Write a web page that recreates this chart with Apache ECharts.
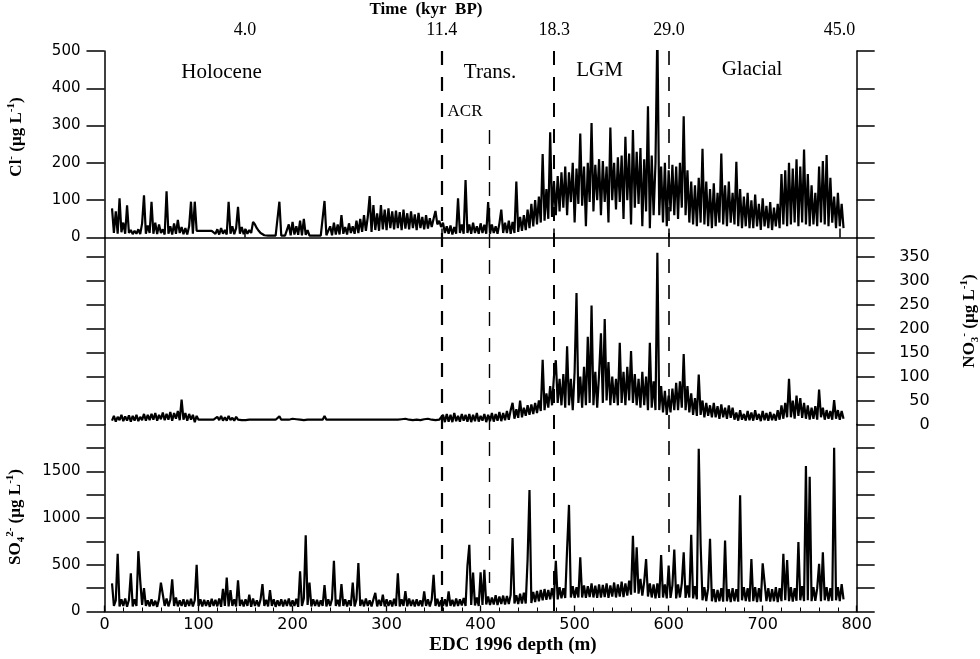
<!DOCTYPE html>
<html><head><meta charset="utf-8">
<script src="https://cdn.jsdelivr.net/npm/echarts@6/dist/echarts.min.js"></script>
<style>html,body{margin:0;padding:0;background:#fff}#c{width:980px;height:659px}</style>
</head><body><div id="c"></div>
<script>
// sampling grid of the records (EDC 1996 depth, m)
const depthStart = 8;
const depthStep = 2;

// Cl- (µg/L), one row = 20 m
const clValues = [
  78, 12, 70, 10, 105, 14, 40, 10, 86, 12,
  20, 9, 18, 10, 22, 9, 38, 113, 10, 32,
  12, 96, 10, 40, 9, 35, 12, 22, 8, 124,
  10, 30, 8, 38, 10, 47, 12, 28, 9, 25,
  8, 30, 96, 10, 96, 18, 18, 18, 18, 18,
  18, 18, 18, 18, 18, 10, 22, 8, 25, 10,
  20, 8, 96, 10, 30, 9, 25, 82, 10, 28,
  9, 22, 10, 20, 12, 42, 35, 25, 18, 12,
  8, 6, 5, 5, 5, 5, 5, 5, 5, 96,
  5, 5, 5, 6, 35, 6, 42, 8, 30, 7,
  45, 6, 50, 7, 20, 5, 5, 5, 5, 5,
  5, 5, 6, 98, 6, 8, 30, 6, 40, 8,
  35, 8, 60, 10, 28, 8, 38, 12, 30, 10,
  45, 12, 50, 15, 60, 18, 55, 111, 15, 87,
  20, 65, 18, 87, 22, 75, 20, 78, 25, 70,
  22, 72, 25, 68, 20, 75, 24, 65, 22, 70,
  25, 62, 20, 66, 25, 55, 22, 60, 24, 52,
  28, 50, 71, 35, 45, 28, 40, 12, 30, 10,
  32, 8, 28, 10, 105, 12, 35, 10, 154, 12,
  35, 10, 40, 12, 30, 10, 38, 12, 34, 10,
  95, 10, 35, 12, 30, 10, 38, 75, 12, 40,
  12, 45, 10, 42, 12, 150, 15, 55, 18, 60,
  20, 75, 25, 90, 30, 100, 35, 110, 40, 224,
  45, 130, 50, 282, 55, 150, 60, 165, 70, 175,
  80, 190, 60, 175, 95, 200, 40, 185, 90, 279,
  85, 190, 30, 200, 95, 307, 70, 195, 100, 210,
  60, 205, 95, 190, 40, 295, 100, 200, 75, 215,
  95, 220, 50, 270, 100, 225, 35, 288, 80, 230,
  90, 240, 30, 210, 70, 352, 25, 220, 60, 200,
  560, 60, 190, 40, 200, 30, 180, 70, 195, 60,
  190, 50, 200, 80, 325, 60, 180, 40, 150, 35,
  140, 30, 160, 40, 238, 35, 150, 30, 130, 25,
  145, 30, 120, 40, 225, 35, 140, 30, 150, 40,
  120, 35, 203, 30, 130, 25, 110, 30, 120, 25,
  100, 25, 115, 30, 90, 20, 105, 30, 85, 25,
  95, 20, 80, 30, 90, 25, 170, 35, 180, 30,
  200, 35, 185, 40, 210, 30, 190, 40, 236, 35,
  170, 30, 140, 35, 120, 30, 190, 40, 205, 35,
  221, 30, 160, 40, 110, 25, 120, 30, 90, 25
];

// NO3- (µg/L)
const no3Values = [
  8, 18, 6, 16, 9, 20, 7, 17, 8, 19,
  6, 18, 8, 20, 7, 16, 9, 22, 8, 20,
  9, 22, 10, 24, 8, 20, 11, 25, 9, 22,
  10, 26, 8, 24, 12, 28, 9, 52, 10, 24,
  8, 22, 10, 20, 5, 18, 10, 10, 10, 10,
  10, 10, 10, 10, 10, 8, 16, 9, 18, 8,
  15, 8, 18, 9, 14, 8, 16, 10, 13, 9,
  12, 9, 11, 10, 14, 10, 10, 10, 10, 10,
  10, 10, 10, 10, 10, 10, 10, 10, 10, 17,
  10, 10, 10, 10, 10, 6, 12, 8, 11, 9,
  10, 12, 9, 10, 10, 10, 10, 10, 10, 10,
  10, 10, 10, 18, 10, 10, 10, 10, 10, 10,
  10, 10, 10, 10, 10, 10, 10, 10, 10, 10,
  10, 10, 10, 10, 10, 10, 10, 10, 10, 10,
  10, 10, 10, 10, 10, 12, 10, 10, 10, 10,
  10, 12, 10, 9, 11, 10, 12, 9, 10, 11,
  9, 11, 10, 12, 9, 10, 11, 9, 12, 10,
  10, 12, 9, 11, 10, 8, 20, 5, 22, 6,
  20, 5, 24, 7, 18, 6, 22, 8, 20, 6,
  22, 5, 20, 7, 24, 6, 18, 8, 22, 5,
  20, 7, 24, 6, 22, 8, 26, 7, 24, 9,
  28, 10, 30, 45, 12, 32, 14, 50, 15, 35,
  18, 40, 20, 42, 22, 45, 24, 50, 28, 135,
  30, 65, 35, 80, 40, 100, 134, 45, 95, 40,
  105, 35, 163, 40, 95, 30, 110, 274, 45, 100,
  35, 120, 40, 183, 45, 248, 40, 110, 35, 105,
  190, 45, 220, 50, 130, 40, 100, 45, 95, 40,
  170, 45, 110, 40, 120, 50, 153, 45, 105, 40,
  95, 35, 110, 40, 100, 30, 170, 35, 90, 30,
  358, 30, 80, 25, 70, 20, 60, 25, 75, 30,
  87, 30, 90, 35, 147, 30, 80, 25, 65, 20,
  55, 18, 104, 20, 50, 15, 45, 18, 40, 15,
  45, 15, 38, 12, 42, 15, 35, 12, 40, 14,
  35, 10, 25, 8, 30, 10, 22, 8, 28, 9,
  25, 8, 30, 10, 22, 7, 28, 9, 24, 8,
  26, 9, 22, 8, 30, 10, 40, 12, 45, 15,
  95, 15, 50, 12, 60, 18, 55, 14, 45, 12,
  40, 10, 35, 12, 38, 10, 73, 15, 35, 10,
  30, 12, 28, 10, 51, 12, 30, 10, 28, 12
];

// SO4 2- (µg/L)
const so4Values = [
  300, 60, 120, 616, 55, 130, 60, 140, 50, 125,
  409, 55, 130, 60, 645, 330, 70, 250, 60, 120,
  55, 130, 60, 115, 50, 135, 308, 326, 60, 140,
  55, 125, 344, 60, 150, 55, 120, 60, 130, 50,
  125, 60, 135, 55, 120, 500, 60, 130, 55, 125,
  60, 120, 50, 135, 60, 125, 55, 140, 50, 243,
  60, 362, 55, 228, 60, 130, 55, 333, 60, 125,
  55, 130, 60, 180, 50, 140, 60, 120, 55, 130,
  293, 60, 125, 55, 228, 60, 130, 50, 120, 60,
  130, 55, 125, 60, 140, 55, 120, 60, 135, 50,
  431, 60, 140, 815, 70, 308, 55, 130, 60, 125,
  55, 120, 60, 283, 55, 130, 60, 135, 543, 60,
  125, 55, 293, 60, 130, 55, 120, 60, 308, 55,
  130, 518, 60, 125, 55, 140, 60, 120, 55, 130,
  200, 55, 125, 60, 180, 55, 130, 60, 120, 55,
  135, 60, 409, 55, 130, 60, 217, 55, 140, 60,
  125, 55, 130, 60, 120, 55, 214, 60, 130, 55,
  125, 391, 60, 135, 55, 120, 60, 130, 55, 214,
  60, 125, 55, 140, 60, 130, 65, 145, 60, 489,
  714, 70, 417, 65, 150, 60, 418, 70, 446, 75,
  160, 70, 150, 75, 175, 70, 160, 80, 170, 75,
  165, 80, 180, 785, 85, 175, 80, 190, 85, 200,
  85, 560, 1300, 90, 210, 100, 220, 110, 230, 120,
  240, 125, 230, 130, 250, 135, 543, 130, 260, 140,
  250, 145, 668, 1140, 150, 270, 145, 260, 150, 579,
  150, 280, 145, 270, 155, 300, 150, 275, 145, 290,
  150, 285, 155, 300, 145, 280, 160, 310, 150, 290,
  160, 320, 155, 300, 170, 330, 180, 810, 200, 686,
  190, 350, 170, 320, 561, 160, 300, 150, 290, 140,
  300, 145, 604, 150, 290, 140, 491, 145, 280, 663,
  140, 290, 150, 300, 634, 145, 280, 150, 820, 140,
  270, 130, 1740, 716, 120, 260, 110, 250, 777, 110,
  240, 100, 230, 110, 250, 105, 760, 110, 240, 100,
  250, 110, 240, 105, 1243, 120, 260, 110, 250, 105,
  561, 110, 260, 100, 250, 105, 516, 520, 110, 250,
  105, 240, 110, 260, 100, 250, 110, 616, 120, 551,
  110, 260, 105, 250, 115, 742, 120, 270, 110, 1555,
  120, 1440, 110, 260, 115, 250, 509, 110, 634, 120,
  260, 110, 250, 115, 1752, 120, 260, 110, 294, 130
];

// top time axis: depth (m) of the age marks and their labels (kyr BP)
const timeDepths = [149.5, 358.7, 478.2, 600.5, 781.7];
const timeLabels = ['4.0', '11.4', '18.3', '29.0', '45.0'];
// period boundaries (depth, m): 11.4 kyr, ACR end, 18.3 kyr, 29.0 kyr
const boundaryDepths = [358.7, 409.6, 478.2, 600.5];
// tick values
const no3Ticks = [0, 50, 100, 150, 200, 250, 300, 350];
const so4Labels = [0, 500, 1000, 1500];

function pairs(vals) { return vals.map((v, i) => [depthStart + i * depthStep, v]); }

const chart = echarts.init(document.getElementById('c'));
const L = 104.5, R = 123.3;
const black = '#000';
const tickLbl = { fontFamily: 'DejaVu Sans', fontSize: 15, color: black, formatter: v => String(v) };
const axLine = { show: true, lineStyle: { color: black, width: 1.5 } };
const yTick = { show: true, inside: false, length: 18, lineStyle: { color: black, width: 1.5 } };
const dataLine = { color: black, width: 2.2, join: 'bevel' };

const serif = 'Liberation Serif';
function yName(text, x, y) {
  return {
    type: 'text', x: x, y: y, rotation: Math.PI / 2, silent: true,
    style: {
      text: text, align: 'center', verticalAlign: 'middle', textAlign: 'center', textVerticalAlign: 'middle', fill: black,
      rich: {
        b: { fontFamily: serif, fontWeight: 'bold', fontSize: 17, lineHeight: 22, fill: black },
        sup: { fontFamily: serif, fontWeight: 'bold', fontSize: 11, lineHeight: 12, verticalAlign: 'top', fill: black },
        sub: { fontFamily: serif, fontWeight: 'bold', fontSize: 11, lineHeight: 12, verticalAlign: 'bottom', fill: black }
      }
    }
  };
}
function label(text, x, y, size, bold) {
  return { type: 'text', x: x, y: y, silent: true,
    style: { text: text, fill: black, font: (bold ? 'bold ' : '') + size + 'px "' + serif + '"',
      align: 'center', verticalAlign: 'middle', textAlign: 'center', textVerticalAlign: 'middle' } };
}

const option = {
  animation: false,
  backgroundColor: '#fff',
  grid: [
    { left: L, right: R, top: 51, height: 186.5 },
    { left: L, right: R, top: 237.5, height: 187 },
    { left: L, right: R, top: 424.5, height: 187 },
    { left: L, right: R, top: 51, height: 560.5 }
  ],
  xAxis: [
    { gridIndex: 0, type: 'value', position: 'top', min: 0, max: 800,
      axisLine: axLine,
      axisTick: { show: true, customValues: timeDepths, inside: false, length: 9, lineStyle: { color: black, width: 1.5 } },
      axisLabel: { customValues: timeDepths, margin: 12, fontFamily: serif, fontSize: 18, color: black,
        formatter: v => { let k = 0; timeDepths.forEach((d, i) => { if (Math.abs(d - v) < Math.abs(timeDepths[k] - v)) k = i; }); return timeLabels[k]; } },
      splitLine: { show: false } },
    { gridIndex: 1, type: 'value', min: 0, max: 800, show: false },
    { gridIndex: 2, type: 'value', min: 0, max: 800, interval: 100, position: 'bottom',
      axisLine: axLine,
      axisTick: { show: true, inside: true, length: 6, lineStyle: { color: black, width: 1.3 } },
      minorTick: { show: true, splitNumber: 5, length: 4, lineStyle: { color: black, width: 1 } },
      axisLabel: Object.assign({}, tickLbl, { fontSize: 16, margin: 5 }),
      splitLine: { show: false }, minorSplitLine: { show: false } },
    { gridIndex: 3, type: 'value', min: 0, max: 800, show: false }
  ],
  yAxis: [
    { gridIndex: 0, type: 'value', min: 0, max: 500, interval: 100, position: 'left',
      axisLine: axLine, axisTick: yTick,
      axisLabel: Object.assign({}, tickLbl, { margin: 24 }), splitLine: { show: false } },
    { gridIndex: 0, type: 'value', min: 0, max: 500, interval: 100, position: 'right',
      axisLine: axLine, axisTick: yTick, axisLabel: { show: false }, splitLine: { show: false } },
    { gridIndex: 1, type: 'value', min: 0, max: 389.6, position: 'left',
      axisLine: axLine, axisTick: Object.assign({}, yTick, { customValues: no3Ticks }),
      axisLabel: { show: false }, splitLine: { show: false } },
    { gridIndex: 1, type: 'value', min: 0, max: 389.6, position: 'right',
      axisLine: axLine, axisTick: Object.assign({}, yTick, { customValues: no3Ticks }),
      axisLabel: Object.assign({}, tickLbl, { fontSize: 16, customValues: no3Ticks, align: 'right', margin: 73 }),
      splitLine: { show: false } },
    { gridIndex: 2, type: 'value', min: 0, max: 2000, interval: 250, position: 'left',
      axisLine: axLine, axisTick: yTick,
      axisLabel: Object.assign({}, tickLbl, { margin: 24, customValues: so4Labels }), splitLine: { show: false } },
    { gridIndex: 2, type: 'value', min: 0, max: 2000, interval: 250, position: 'right',
      axisLine: axLine, axisTick: yTick, axisLabel: { show: false }, splitLine: { show: false } },
    { gridIndex: 3, type: 'value', min: 0, max: 1, show: false }
  ],
  series: [
    { name: 'Cl', type: 'line', xAxisIndex: 0, yAxisIndex: 0, data: pairs(clValues), showSymbol: false, symbol: 'none',
      clip: true, lineStyle: dataLine, z: 3 },
    { name: 'NO3', type: 'line', xAxisIndex: 1, yAxisIndex: 2, data: pairs(no3Values), showSymbol: false, symbol: 'none',
      clip: true, lineStyle: dataLine, z: 3 },
    { name: 'SO4', type: 'line', xAxisIndex: 2, yAxisIndex: 4, data: pairs(so4Values), showSymbol: false, symbol: 'none',
      clip: true, lineStyle: dataLine, z: 3 },
    { name: 'bounds', type: 'line', xAxisIndex: 3, yAxisIndex: 6, data: [], showSymbol: false, z: 4,
      markLine: {
        silent: true, symbol: ['none', 'none'], label: { show: false },
        lineStyle: { color: black, type: [14, 12], width: 1.6 },
        data: [
          [{ coord: [boundaryDepths[0], 1], lineStyle: { width: 2.2 } }, { coord: [boundaryDepths[0], 0] }],
          [{ coord: [boundaryDepths[1], 0.859], lineStyle: { width: 1.4 } }, { coord: [boundaryDepths[1], 0.051] }],
          [{ coord: [boundaryDepths[2], 1], lineStyle: { width: 2 } }, { coord: [boundaryDepths[2], 0] }],
          [{ coord: [boundaryDepths[3], 1], lineStyle: { width: 1.6 } }, { coord: [boundaryDepths[3], 0.106] }]
        ]
      } }
  ],
  graphic: [
    label('Holocene', 221.5, 72, 21),
    label('Trans.', 490, 72, 21),
    label('ACR', 465, 112, 17),
    label('LGM', 599.5, 70, 21),
    label('Glacial', 752, 69, 21),
    label('Time  (kyr  BP)', 426, 10, 17, true),
    label('EDC 1996 depth (m)', 513, 645, 19, true),
    yName('{b|Cl}{sup|-}{b| (µg L}{sup|-1}{b|)}', 17, 137),
    yName('{b|NO}{sub|3}{sup|-}{b| (µg L}{sup|-1}{b|)}', 970, 321),
    yName('{b|SO}{sub|4}{sup|2-}{b| (µg L}{sup|-1}{b|)}', 16, 517)
  ]
};
chart.setOption(option);
</script></body></html>
